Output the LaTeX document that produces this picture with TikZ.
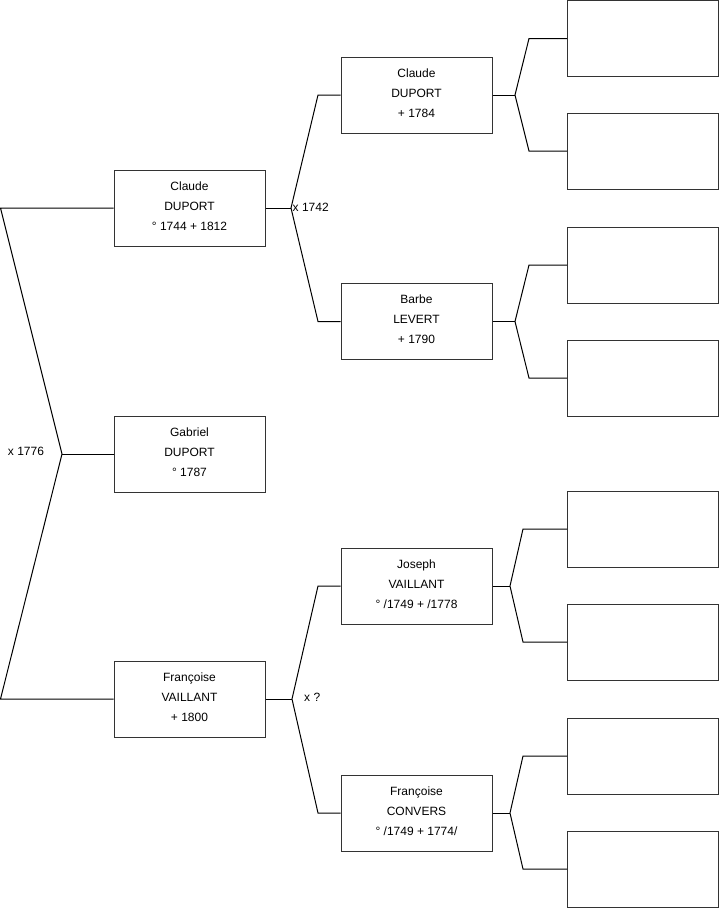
\documentclass[tikz,border=0pt]{standalone}
\usepackage{fontspec}
\setmainfont{Liberation Sans}
\begin{document}
\begin{tikzpicture}[x=1pt,y=-1pt,
  person/.style={draw=black!80, line width=1pt, minimum width=151pt, minimum height=76pt,
    inner sep=0pt, align=center, text depth=4pt, font=\fontsize{12}{20}\selectfont},
  link/.style={draw=black, line width=1pt},
  lbl/.style={font=\fontsize{12}{14}\selectfont, inner sep=0pt}]
\useasboundingbox (0,0) rectangle (719,908);
% level 1
\node[person] (c1) at (189.5,208) {Claude\\DUPORT\\° 1744 + 1812};
\node[person] (g1) at (189.5,454) {Gabriel\\DUPORT\\° 1787};
\node[person] (v1) at (189.5,699) {Françoise\\VAILLANT\\+ 1800};
% level 2
\node[person] (c2) at (416.5,95) {Claude\\DUPORT\\+ 1784};
\node[person] (b2) at (416.5,321.5) {Barbe\\LEVERT\\+ 1790};
\node[person] (j2) at (416.5,586) {Joseph\\VAILLANT\\° /1749 + /1778};
\node[person] (f2) at (416.5,813) {Françoise\\CONVERS\\° /1749 + 1774/};
% level 3
\node[person] (e1) at (643,38.5) {};
\node[person] (e2) at (643,151) {};
\node[person] (e3) at (643,265) {};
\node[person] (e4) at (643,378) {};
\node[person] (e5) at (643,529) {};
\node[person] (e6) at (643,642) {};
\node[person] (e7) at (643,756) {};
\node[person] (e8) at (643,869) {};
% left fork
\coordinate (la) at (0.5,208);
\coordinate (lv) at (62,454);
\coordinate (lb) at (0.5,699);
\draw[link] (c1.west) -- (la) -- (lv) -- (lb) -- (v1.west);
\draw[link] (lv) -- (g1.west);
\node[lbl] (m1) at (26,451.5) {x 1776};
% fork Claude DUPORT
\coordinate (f1) at (291,208);
\coordinate (f1a) at (318,95);
\coordinate (f1b) at (318,321.5);
\draw[link] (c1.east) -- (f1);
\draw[link] (c2.west) -- (f1a) -- (f1) -- (f1b) -- (b2.west);
\node[lbl, anchor=west] (m2) at (292.5,207) {x 1742};
% fork Françoise VAILLANT
\coordinate (f2v) at (292,699);
\coordinate (f2a) at (318,586);
\coordinate (f2b) at (318,813);
\draw[link] (v1.east) -- (f2v);
\draw[link] (j2.west) -- (f2a) -- (f2v) -- (f2b) -- (f2.west);
\node[lbl, anchor=west] (m3) at (304,697.5) {x ?};
% level 2 to 3 forks
\coordinate (g1v) at (515,95);
\coordinate (g1a) at (529,38.5);
\coordinate (g1b) at (529,151);
\draw[link] (c2.east) -- (g1v);
\draw[link] (e1.west) -- (g1a) -- (g1v) -- (g1b) -- (e2.west);
\coordinate (g2v) at (515,321.5);
\coordinate (g2a) at (529,265);
\coordinate (g2b) at (529,378);
\draw[link] (b2.east) -- (g2v);
\draw[link] (e3.west) -- (g2a) -- (g2v) -- (g2b) -- (e4.west);
\coordinate (g3v) at (510,586);
\coordinate (g3a) at (523,529);
\coordinate (g3b) at (523,642);
\draw[link] (j2.east) -- (g3v);
\draw[link] (e5.west) -- (g3a) -- (g3v) -- (g3b) -- (e6.west);
\coordinate (g4v) at (510,813);
\coordinate (g4a) at (523,756);
\coordinate (g4b) at (523,869);
\draw[link] (f2.east) -- (g4v);
\draw[link] (e7.west) -- (g4a) -- (g4v) -- (g4b) -- (e8.west);
\end{tikzpicture}
\end{document}
